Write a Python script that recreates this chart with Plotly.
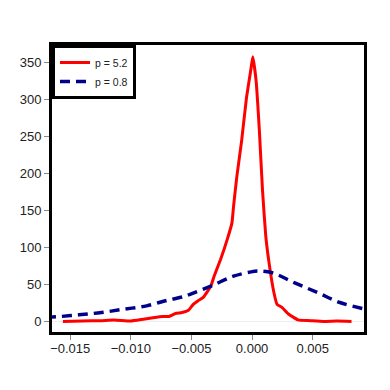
import plotly.graph_objects as go

# red curve, p = 5.2
red_x = [-0.0156, -0.0140, -0.0125, -0.01136, -0.0100, -0.00897, -0.00817, -0.00738, -0.00685,
         -0.00632, -0.00578, -0.00525, -0.00485, -0.00445, -0.00405, -0.0034, -0.00313, -0.0026,
         -0.00206, -0.00166, -0.00153, -0.00126, -0.00086, -0.00046, -0.0001, 0.00006, 0.00033,
         0.0006, 0.00086, 0.00113, 0.0014, 0.0018, 0.00206, 0.00246, 0.003, 0.0038, 0.0048,
         0.0059, 0.0070, 0.0082]
red_y = [0, 0.5, 1, 2, 0.5, 3, 5, 6.7, 6.7,
         10.7, 12, 15, 23, 28, 32, 47.7, 61, 83.5,
         110, 133, 155, 195, 244, 302, 340, 357, 325,
         258, 177, 115, 79, 39, 23, 19, 10, 2, 1,
         0, 0.5, 0]

# blue dashed curve, p = 0.8
blue_x = [-0.0170, -0.01614, -0.01429, -0.01243, -0.01057, -0.0087, -0.00698, -0.00552, -0.00512,
          -0.0034, -0.00153, -0.0002, 0.00046, 0.00166, 0.00352, 0.00538, 0.00724, 0.0091, 0.0096]
blue_y = [5.5, 6.2, 8.9, 12, 16.5, 21, 28.5, 34, 36.6,
          47.7, 61, 66.5, 68, 65.6, 52, 39, 25.5, 17.4, 15.5]

fig = go.Figure()
fig.add_trace(go.Scatter(x=red_x, y=red_y, mode="lines", name="p = 5.2",
                         line=dict(color="#ff0000", width=3, shape="spline", smoothing=0.4)))
fig.add_trace(go.Scatter(x=blue_x, y=blue_y, mode="lines", name="p = 0.8",
                         line=dict(color="#00008b", width=3.5, dash="10px,6px", shape="spline")))

# page body has a small margin, so pull the plot area up/left to compensate
fig.update_layout(
    width=390, height=390,
    margin=dict(l=34, r=34, t=37, b=66),
    plot_bgcolor="white", paper_bgcolor="white",
    font=dict(family="Liberation Sans, Arial, sans-serif", size=13, color="#222"),
    showlegend=True,
    legend=dict(x=0, y=1, xanchor="left", yanchor="top", bgcolor="white",
                bordercolor="black", borderwidth=3, font=dict(size=10.5),
                itemwidth=30, tracegroupgap=0),
)
fig.update_xaxes(range=[-0.0165, 0.00923], tickvals=[-0.015, -0.01, -0.005, 0, 0.005],
                 ticktext=["\u22120.015", "\u22120.010", "\u22120.005", "0.000", "0.005"],
                 ticks="outside", ticklen=5, tickcolor="#888", ticklabelstandoff=-3,
                 showgrid=False, zeroline=False,
                 showline=True, linecolor="black", linewidth=3, mirror=True)
fig.update_yaxes(range=[-14.3, 373], tickvals=[0, 50, 100, 150, 200, 250, 300, 350],
                 ticks="outside", ticklen=5, tickcolor="#888", showgrid=False,
                 zeroline=True, zerolinecolor="#eeeeee", zerolinewidth=1,
                 showline=True, linecolor="black", linewidth=3, mirror=True)

fig.write_html("out.html")
